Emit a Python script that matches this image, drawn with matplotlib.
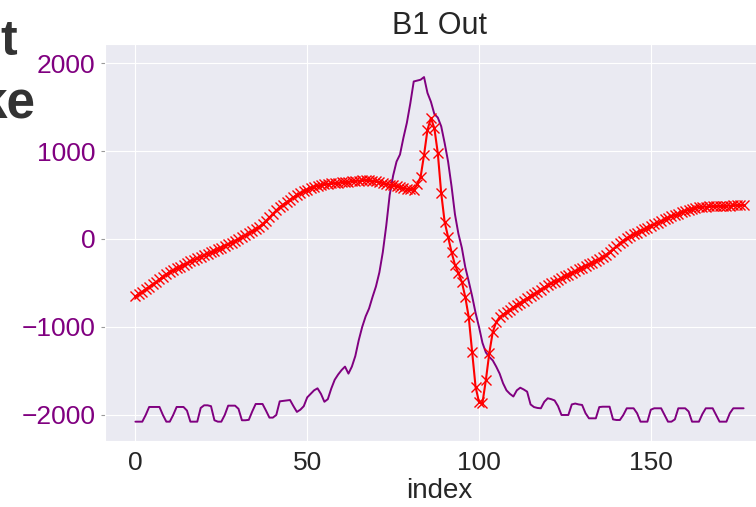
import matplotlib
matplotlib.use("Agg")
import matplotlib.pyplot as plt
import seaborn as sns

# values (index 0..177)
b1_out = [
    -650, -625, -600, -570, -545, -515, -490, -460, -430, -400,
    -375, -355, -335, -315, -295, -275, -255, -238, -220, -203,
    -185, -168, -150, -133, -115, -97, -78, -60, -40, -20,
    0, 20, 42, 64, 88, 112, 136, 170, 205, 245,
    285, 325, 362, 392, 420, 448, 475, 500, 523, 545,
    562, 580, 595, 607, 614, 620, 626, 632, 636, 640,
    644, 648, 652, 656, 660, 664, 667, 670, 668, 663,
    655, 645, 636, 627, 618, 608, 598, 590, 580, 570,
    565, 557, 620, 705, 955, 1240, 1375, 1260, 977, 520,
    193, 23, -148, -295, -386, -489, -659, -886, -1284, -1682,
    -1852, -1864, -1602, -1295, -1057, -943, -886, -858, -830, -802,
    -775, -750, -725, -700, -675, -650, -625, -600, -575, -550,
    -525, -505, -485, -465, -445, -425, -405, -385, -365, -345,
    -325, -305, -287, -268, -250, -230, -205, -180, -148, -115,
    -82, -50, -20, 10, 32, 52, 72, 92, 110, 128,
    146, 165, 184, 203, 222, 240, 256, 272, 288, 303,
    318, 332, 345, 355, 362, 366, 368, 370, 371, 373,
    375, 376, 378, 380, 381, 383, 385, 387,
]

b1_in = [
    -2076, -2076, -2076, -2000, -1909, -1909, -1909, -1909, -2000, -2076,
    -2076, -2000, -1909, -1909, -1909, -1950, -2076, -2076, -2076, -1920,
    -1890, -1890, -1900, -2060, -2076, -2076, -2000, -1894, -1894, -1894,
    -1930, -2060, -2060, -2055, -1960, -1875, -1875, -1875, -1950, -2030,
    -2030, -2000, -1845, -1840, -1835, -1830, -1900, -1965, -1940, -1900,
    -1800, -1760, -1720, -1697, -1760, -1850, -1820, -1700, -1600, -1540,
    -1490, -1450, -1530, -1450, -1330, -1150, -1000, -880, -790, -660,
    -540, -380, -150, 150, 500, 720, 880, 960, 1150, 1320,
    1540, 1790, 1800, 1810, 1840, 1660, 1560, 1420, 1380, 1280,
    1090, 880, 600, 280, 60, -100, -320, -480, -650, -840,
    -1000, -1180, -1290, -1340, -1380, -1450, -1530, -1640, -1720, -1760,
    -1790, -1720, -1690, -1710, -1735, -1880, -1910, -1920, -1924, -1850,
    -1810, -1820, -1835, -1900, -2000, -2000, -2000, -1880, -1870, -1880,
    -1886, -1980, -2038, -2038, -2038, -1910, -1906, -1906, -1906, -2050,
    -2057, -2057, -2000, -1924, -1924, -1924, -1980, -2076, -2076, -2076,
    -1940, -1924, -1924, -1924, -2000, -2076, -2076, -2050, -1924, -1924,
    -1924, -1960, -2076, -2076, -2076, -1990, -1924, -1924, -1924, -2000,
    -2076, -2076, -2076, -1980, -1924, -1924, -1924, -1924,
]

index = list(range(len(b1_out)))

sns.set_style("darkgrid")
plt.rcParams['font.family'] = ['Liberation Sans', 'DejaVu Sans']

fig = plt.figure(figsize=(7.56, 5.07), dpi=100)
fig.patch.set_facecolor("white")

# pieces of a slide heading cut off at the left edge
fig.text(17 / 756, 1 - 55 / 507, "t", ha="right", va="baseline",
         fontsize=36, fontweight="bold", color="#333333")
fig.text(35 / 756, 1 - 117 / 507, "ke", ha="right", va="baseline",
         fontsize=37, fontweight="bold", color="#333333")

# axes runs past the right edge of the picture
ax = fig.add_axes([105 / 756, 1 - 440.5 / 507, 669 / 756, 396.5 / 507])
ax.plot(index, b1_in, color="purple", linewidth=1.4)
ax.plot(index, b1_out, color="red", marker="x", markersize=7, linewidth=1.5)

ax.set_ylim(-2290, 2216)
ax.set_yticks([-2000, -1000, 0, 1000, 2000])
ax.set_xticks([0, 50, 100, 150])
ax.set_title("B1 Out", fontsize=22, color="#262626", pad=7)
ax.set_xlabel("index", fontsize=20, color="#262626", labelpad=2)
ax.tick_params(axis="y", labelsize=19, labelcolor="purple", length=3,
               color="#999999", left=True, pad=4)
ax.tick_params(axis="x", labelsize=19, labelcolor="#262626", pad=4)

fig.savefig("out.png", dpi=100)
